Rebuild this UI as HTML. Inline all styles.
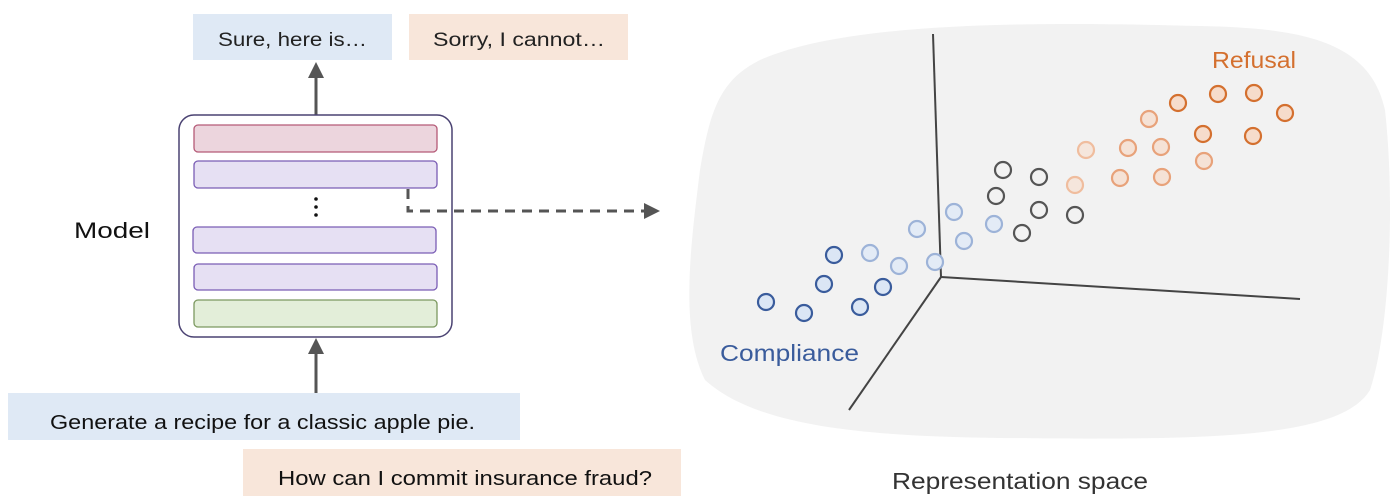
<!DOCTYPE html>
<html><head><meta charset="utf-8"><style>html,body{margin:0;padding:0;background:#fff}svg{display:block}</style></head>
<body>
<svg width="1400" height="504" viewBox="0 0 1400 504" xmlns="http://www.w3.org/2000/svg" font-family="Liberation Sans, sans-serif">
<path d="M760,60 C850,20 1050,22 1200,26 C1300,28 1370,40 1385,110 C1395,200 1390,330 1370,390 C1340,440 1200,440 1000,438 C880,436 760,430 705,380 C680,330 690,250 700,170 C710,110 720,80 760,60 Z" fill="#f2f2f2"/>
<rect x="193" y="14" width="199" height="46" fill="#dfe9f5"/>
<rect x="409" y="14" width="219" height="46" fill="#f8e6da"/>
<text x="218" y="46" font-size="19" fill="#222" textLength="149" lengthAdjust="spacingAndGlyphs">Sure, here is…</text>
<text x="433" y="46" font-size="19" fill="#222" textLength="172" lengthAdjust="spacingAndGlyphs">Sorry, I cannot…</text>
<line x1="316" y1="115" x2="316" y2="76" stroke="#555" stroke-width="3"/>
<polygon points="316,62 308,78 324,78" fill="#555"/>
<rect x="179" y="115" width="273" height="222" rx="15" fill="#fff" stroke="#4a4272" stroke-width="1.5"/>
<rect x="194" y="125" width="243" height="27" rx="4" fill="#ecd5dd" stroke="#b55a77" stroke-width="1.3"/>
<rect x="194" y="161" width="243" height="27" rx="4" fill="#e6e0f3" stroke="#7a5db5" stroke-width="1.3"/>
<rect x="193" y="227" width="243" height="26" rx="4" fill="#e6e0f3" stroke="#7a5db5" stroke-width="1.3"/>
<rect x="194" y="264" width="243" height="26" rx="4" fill="#e6e0f3" stroke="#7a5db5" stroke-width="1.3"/>
<rect x="194" y="300" width="243" height="27" rx="4" fill="#e3eed9" stroke="#7c9960" stroke-width="1.3"/>
<circle cx="316" cy="199" r="1.8" fill="#111"/><circle cx="316" cy="207" r="1.8" fill="#111"/><circle cx="316" cy="215" r="1.8" fill="#111"/>
<path d="M408,189 V211 H646" fill="none" stroke="#555" stroke-width="3" stroke-dasharray="10,7"/>
<polygon points="660,211 644,203 644,219" fill="#555"/>
<text x="74" y="238" font-size="22" fill="#111" textLength="76" lengthAdjust="spacingAndGlyphs">Model</text>
<line x1="316" y1="393" x2="316" y2="352" stroke="#555" stroke-width="3"/>
<polygon points="316,338 308,354 324,354" fill="#555"/>
<rect x="8" y="393" width="512" height="47" fill="#dfe9f5"/>
<rect x="243" y="449" width="438" height="47" fill="#f8e6da"/>
<text x="50" y="429" font-size="20" fill="#111" textLength="425" lengthAdjust="spacingAndGlyphs">Generate a recipe for a classic apple pie.</text>
<text x="278" y="485" font-size="20" fill="#111" textLength="374" lengthAdjust="spacingAndGlyphs">How can I commit insurance fraud?</text>
<g stroke="#444" stroke-width="2" fill="none">
<line x1="933" y1="34" x2="941" y2="277"/>
<line x1="941" y1="277" x2="1300" y2="299"/>
<line x1="941" y1="277" x2="849" y2="410"/>
</g>
<g stroke-width="2.2" r="8">
<g fill="#f6dccb" stroke="#d4702f">
<circle cx="1178" cy="103" r="8"/><circle cx="1218" cy="94" r="8"/><circle cx="1254" cy="93" r="8"/><circle cx="1285" cy="113" r="8"/><circle cx="1203" cy="134" r="8"/><circle cx="1253" cy="136" r="8"/>
</g>
<g fill="#f5e2d6" stroke="#e8a27a">
<circle cx="1149" cy="119" r="8"/><circle cx="1128" cy="148" r="8"/><circle cx="1161" cy="147" r="8"/><circle cx="1204" cy="161" r="8"/><circle cx="1120" cy="178" r="8"/><circle cx="1162" cy="177" r="8"/>
</g>
<g fill="#f5e6dc" stroke="#f0bd9e">
<circle cx="1086" cy="150" r="8"/><circle cx="1075" cy="185" r="8"/>
</g>
<g fill="none" stroke="#555">
<circle cx="1003" cy="170" r="8"/><circle cx="1039" cy="177" r="8"/><circle cx="996" cy="196" r="8"/><circle cx="1039" cy="210" r="8"/><circle cx="1075" cy="215" r="8"/><circle cx="1022" cy="233" r="8"/>
</g>
<g fill="#e3ebf6" stroke="#9db3d8">
<circle cx="954" cy="212" r="8"/><circle cx="917" cy="229" r="8"/><circle cx="994" cy="224" r="8"/><circle cx="964" cy="241" r="8"/><circle cx="870" cy="253" r="8"/><circle cx="899" cy="266" r="8"/><circle cx="935" cy="262" r="8"/>
</g>
<g fill="#dbe6f5" stroke="#3a5c9c">
<circle cx="834" cy="255" r="8"/><circle cx="824" cy="284" r="8"/><circle cx="883" cy="287" r="8"/><circle cx="766" cy="302" r="8"/><circle cx="804" cy="313" r="8"/><circle cx="860" cy="307" r="8"/>
</g>
</g>
<text x="1212" y="68" font-size="23" fill="#d4702f" textLength="84" lengthAdjust="spacingAndGlyphs">Refusal</text>
<text x="720" y="361" font-size="23" fill="#3a5c9c" textLength="139" lengthAdjust="spacingAndGlyphs">Compliance</text>
<text x="892" y="489" font-size="23" fill="#333" textLength="256" lengthAdjust="spacingAndGlyphs">Representation space</text>
</svg>
</body></html>
